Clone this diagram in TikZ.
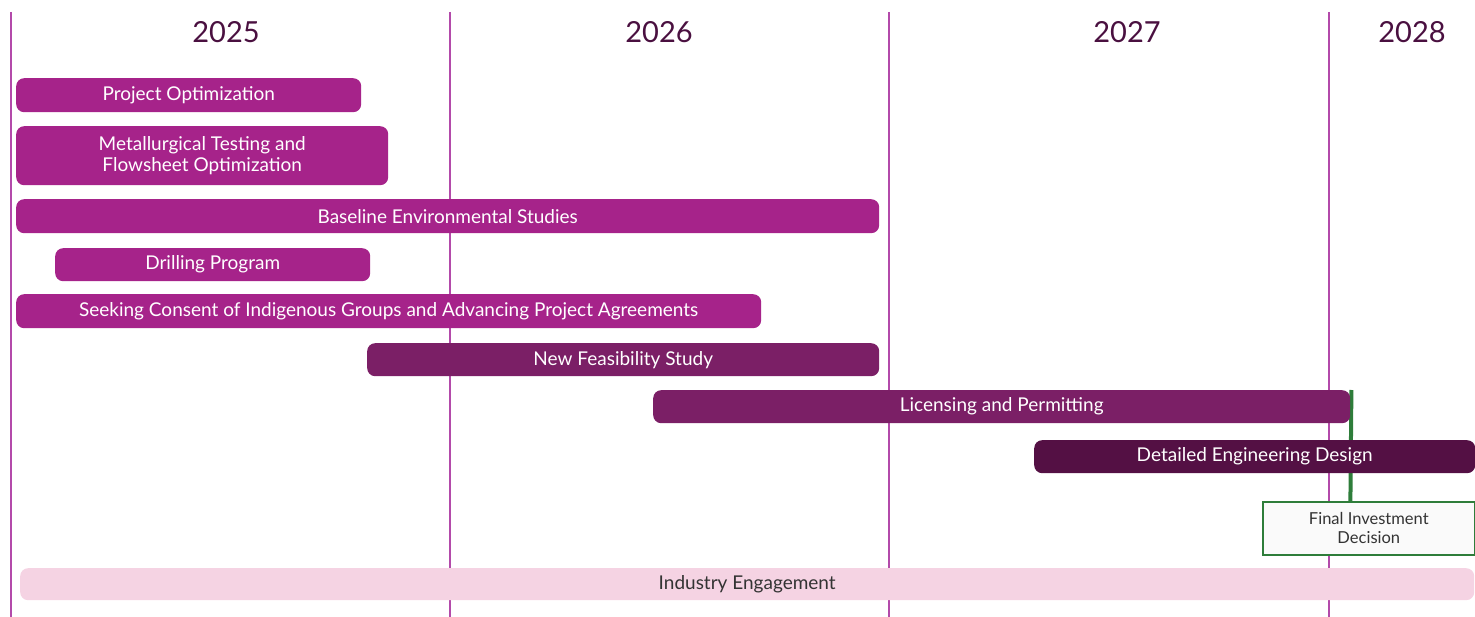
\documentclass[tikz,border=0pt]{standalone}
\usepackage{fontspec}
\setmainfont{Lato}
\usetikzlibrary{positioning, backgrounds}
\definecolor{barA}{HTML}{A6238A}
\definecolor{barB}{HTML}{7B1F66}
\definecolor{barC}{HTML}{541044}
\definecolor{engage}{HTML}{F5D3E3}
\definecolor{grid}{HTML}{B34AAA}
\definecolor{yeartxt}{HTML}{4A1040}
\definecolor{fidgreen}{HTML}{2E7D3A}

\begin{document}
\begin{tikzpicture}[x=1pt, y=-1pt,
        bar/.style = {rectangle, rounded corners=8pt, anchor=north west, inner sep=0pt,
                      text=white, font=\fontsize{19}{21.5}\selectfont, align=center},
       year/.style = {text=yeartxt, font=\fontsize{29}{32}\selectfont},
   yearline/.style = {draw=grid, line width=1.2pt},
        fid/.style = {rectangle, draw=fidgreen, line width=1.6pt, fill=black!2, anchor=north west,
                      inner sep=0pt, align=center, text=black!80, font=\fontsize{16.5}{19}\selectfont}
                        ]
\useasboundingbox (0,0) rectangle (1475,617);
% years
\node (y25) [year] at (226,32) {2025};
\node (y26) [year] at (659,32) {2026};
\node (y27) [year] at (1127,32) {2027};
\node (y28) [year] at (1412,32) {2028};
% bars
\node (po)  [bar, fill=barA, minimum width=345, minimum height=34] at (16,78) {Project Optimization};
\node (mt)  [bar, fill=barA, minimum width=372, minimum height=59] at (16,126) {Metallurgical Testing and\\Flowsheet Optimization};
\node (be)  [bar, fill=barA, minimum width=863, minimum height=34] at (16,199) {Baseline Environmental Studies};
\node (dp)  [bar, fill=barA, minimum width=315, minimum height=33] at (55,248) {Drilling Program};
\node (sc)  [bar, fill=barA, minimum width=745, minimum height=34] at (16,294) {Seeking Consent of Indigenous Groups and Advancing Project Agreements};
\node (nf)  [bar, fill=barB, minimum width=512, minimum height=33] at (367,343) {New Feasibility Study};
\node (lp)  [bar, fill=barB, minimum width=697, minimum height=33] at (653,390) {Licensing and Permitting};
\node (de)  [bar, fill=barC, minimum width=441, minimum height=33] at (1034,440) {Detailed Engineering Design};
\node (fd)  [fid, minimum width=212, minimum height=53] at (1262,501) {Final Investment\\Decision};
\node (ie)  [bar, fill=engage, text=black!80, minimum width=1454, minimum height=32] at (20,568) {Industry Engagement};
\begin{scope}[on background layer]
\foreach \x in {11,450,889,1329}
  \draw[yearline] (\x,12) -- (\x,617);
\draw[fidgreen, line width=4pt] (lp.north east) ++(1,0) -- (lp.north east |- fd.north);
\end{scope}
\end{tikzpicture}
\end{document}
